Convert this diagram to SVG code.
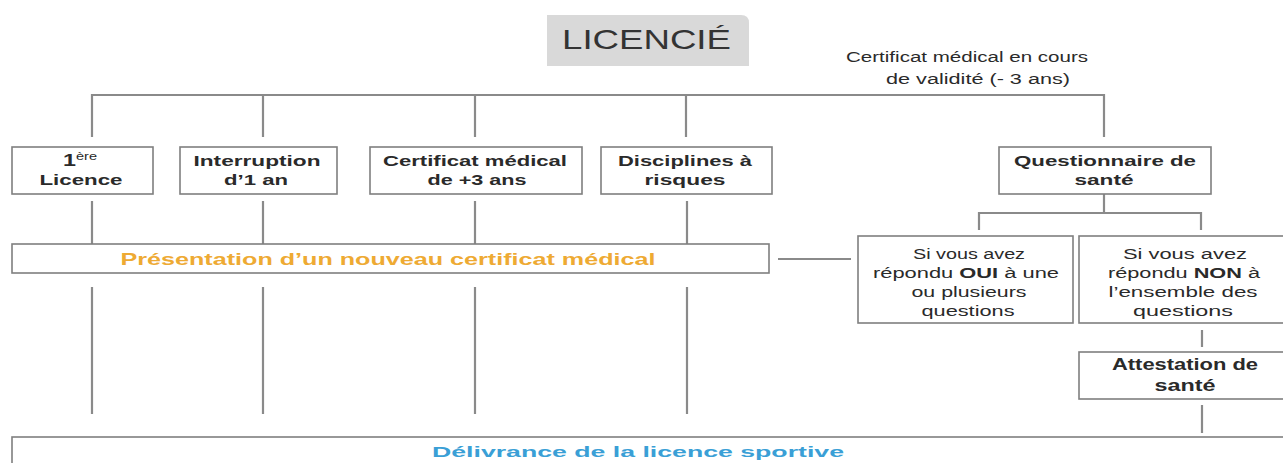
<svg xmlns="http://www.w3.org/2000/svg" width="1283" height="463" viewBox="0 0 1283 463">
<style>
.box{fill:#ffffff;stroke:#7f7f7f;stroke-width:1.6}
.ln{stroke:#8a8a8a;stroke-width:2.2;fill:none}
.t{font-family:"Liberation Sans",Arial,sans-serif;fill:#2a2a2a;text-anchor:middle}
.b{font-weight:bold}
.s{font-size:15px}
.r{font-size:14px}
</style>
<rect width="1283" height="463" fill="#ffffff"/>
<g id="licencie">
<path d="M547,15 H741 Q749,15 749,23 V66 H547 Z" fill="#d9d9d9"/>
<text x="562" y="49" class="t" style="text-anchor:start;font-size:28px;fill:#333" textLength="169" lengthAdjust="spacingAndGlyphs">LICENCIÉ</text>
</g>
<g id="validite">
<text x="967" y="62" class="t r" textLength="242" lengthAdjust="spacingAndGlyphs">Certificat médical en cours</text>
<text x="978" y="84" class="t r" textLength="184" lengthAdjust="spacingAndGlyphs">de validité (- 3 ans)</text>
</g>
<g id="connectors">
<path class="ln" d="M92,137 V95 H1104 V137"/>
<path class="ln" d="M263,95 V137 M475,95 V137 M686,95 V137"/>
<path class="ln" d="M92,201 V244 M263,201 V244 M475,201 V244 M687,201 V244"/>
<path class="ln" d="M92,287 V414 M263,287 V414 M475,287 V414 M687,287 V414"/>
<path class="ln" d="M1104,194 V213 M979,230 V213 H1201 V230"/>
<path class="ln" d="M778,259 H851"/>
<path class="ln" d="M1202,330 V347 M1202,405 V433"/>
</g>
<g id="n1">
<rect class="box" x="12" y="147" width="141" height="47"/>
<text x="80" y="166" class="t b" style="font-size:16px" textLength="34" lengthAdjust="spacingAndGlyphs"><tspan>1</tspan><tspan font-size="10" font-weight="normal" dy="-6">ère</tspan></text>
<text x="81" y="185" class="t b s" textLength="83" lengthAdjust="spacingAndGlyphs">Licence</text>
</g>
<g id="n2">
<rect class="box" x="180" y="147" width="157" height="47"/>
<text x="257" y="166" class="t b s" textLength="127" lengthAdjust="spacingAndGlyphs">Interruption</text>
<text x="256" y="185" class="t b s" textLength="64" lengthAdjust="spacingAndGlyphs">d’1 an</text>
</g>
<g id="n3">
<rect class="box" x="370" y="147" width="212" height="47"/>
<text x="475" y="166" class="t b s" textLength="184" lengthAdjust="spacingAndGlyphs">Certificat médical</text>
<text x="477" y="185" class="t b s" textLength="99" lengthAdjust="spacingAndGlyphs">de +3 ans</text>
</g>
<g id="n4">
<rect class="box" x="601" y="147" width="171" height="47"/>
<text x="685" y="166" class="t b s" textLength="134" lengthAdjust="spacingAndGlyphs">Disciplines à</text>
<text x="685" y="185" class="t b s" textLength="81" lengthAdjust="spacingAndGlyphs">risques</text>
</g>
<g id="n5">
<rect class="box" x="999" y="147" width="212" height="47"/>
<text x="1105" y="166" class="t b s" textLength="182" lengthAdjust="spacingAndGlyphs">Questionnaire de</text>
<text x="1104" y="185" class="t b s" textLength="59" lengthAdjust="spacingAndGlyphs">santé</text>
</g>
<g id="presentation">
<rect class="box" x="12" y="244" width="757" height="29"/>
<text x="388" y="265" class="t b" style="font-size:17px;fill:#eeaa33" textLength="535" lengthAdjust="spacingAndGlyphs">Présentation d’un nouveau certificat médical</text>
</g>
<g id="oui">
<rect class="box" x="858" y="236" width="215" height="87"/>
<text x="969" y="259" class="t r" textLength="112" lengthAdjust="spacingAndGlyphs">Si vous avez</text>
<text x="966" y="278" class="t r" textLength="186" lengthAdjust="spacingAndGlyphs">répondu <tspan class="b">OUI</tspan> à une</text>
<text x="969" y="297" class="t r" textLength="115" lengthAdjust="spacingAndGlyphs">ou plusieurs</text>
<text x="968" y="316" class="t r" textLength="93" lengthAdjust="spacingAndGlyphs">questions</text>
</g>
<g id="non">
<rect class="box" x="1079" y="236" width="210" height="87"/>
<text x="1185" y="259" class="t r" textLength="124" lengthAdjust="spacingAndGlyphs">Si vous avez</text>
<text x="1184" y="278" class="t r" textLength="152" lengthAdjust="spacingAndGlyphs">répondu <tspan class="b">NON</tspan> à</text>
<text x="1183" y="297" class="t r" textLength="149" lengthAdjust="spacingAndGlyphs">l’ensemble des</text>
<text x="1183" y="316" class="t r" textLength="100" lengthAdjust="spacingAndGlyphs">questions</text>
</g>
<g id="attestation">
<rect class="box" x="1079" y="352" width="210" height="47"/>
<text x="1185" y="370" class="t b" style="font-size:16px" textLength="146" lengthAdjust="spacingAndGlyphs">Attestation de</text>
<text x="1185" y="391" class="t b" style="font-size:16px" textLength="61" lengthAdjust="spacingAndGlyphs">santé</text>
</g>
<g id="delivrance">
<rect class="box" x="12" y="437" width="1280" height="40"/>
<text x="638" y="457" class="t b" style="font-size:15px;fill:#3a9fd6" textLength="412" lengthAdjust="spacingAndGlyphs">Délivrance de la licence sportive</text>
</g>
</svg>
